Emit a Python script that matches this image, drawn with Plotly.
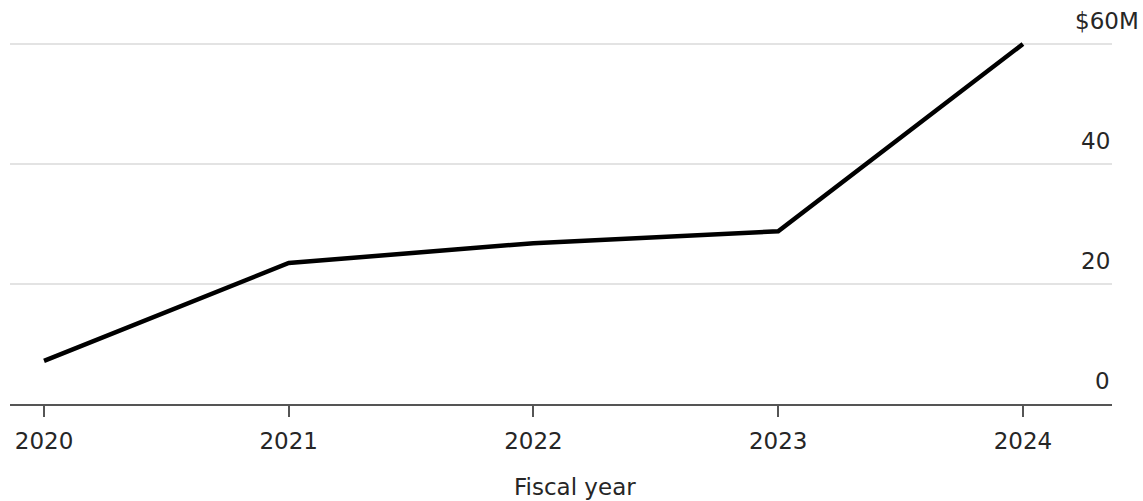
import plotly.graph_objects as go

years = [2020, 2021, 2022, 2023, 2024]
values = [7.2, 23.5, 26.8, 28.8, 60.0]
ytick_vals = [0, 20, 40, 60]
ytick_text = ["0", "20", "40", "$60M"]
x_title = "Fiscal year"

FONT = "DejaVu Sans, Liberation Sans, Arial, sans-serif"
TXT = "#262626"
FS = 23
W, H = 1143, 501
ml, mr, mt, mb = 10, 31, 38, 97

fig = go.Figure()
fig.add_trace(go.Scatter(
    x=years, y=values, mode="lines",
    line=dict(color="#000000", width=4.5),
    cliponaxis=False, hoverinfo="skip", showlegend=False,
))

annotations = []
for v, t in zip(ytick_vals, ytick_text):
    annotations.append(dict(
        x=1, xref="paper", y=v, yref="y", text=t, showarrow=False,
        xanchor="right", yanchor="bottom", yshift=8,
        xshift=29 if t.startswith("$") else 0,
        font=dict(family=FONT, size=FS, color=TXT),
    ))
annotations.append(dict(
    x=(575 - ml) / (W - ml - mr), xref="paper", y=0, yref="paper",
    yshift=-68, yanchor="top", text=x_title, showarrow=False,
    font=dict(family=FONT, size=FS, color=TXT),
))

fig.update_layout(
    width=W, height=H,
    margin=dict(l=ml, r=mr, t=mt, b=mb),
    paper_bgcolor="white", plot_bgcolor="white",
    annotations=annotations,
    xaxis=dict(
        range=[2019.861, 2024.364], tickvals=years,
        ticktext=[str(y) for y in years],
        showgrid=False, zeroline=False,
        showline=True, linecolor="#555555", linewidth=2,
        ticks="outside", ticklen=11, tickwidth=2, tickcolor="#555555",
        ticklabelstandoff=4,
        tickfont=dict(family=FONT, size=FS, color=TXT),
        fixedrange=True,
    ),
    yaxis=dict(
        range=[0, 61], tickvals=ytick_vals, showticklabels=False,
        showgrid=True, gridcolor="#e3e3e3", gridwidth=2,
        zeroline=False, showline=False, fixedrange=True,
    ),
)

fig.write_html("out.html")
